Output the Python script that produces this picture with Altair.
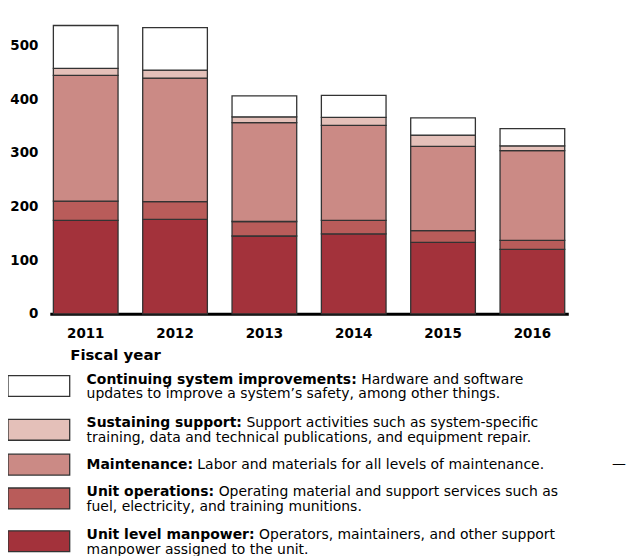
import altair as alt
import pandas as pd

# ---------------- data ----------------
years = ["2011", "2012", "2013", "2014", "2015", "2016"]
categories = ["Unit level manpower", "Unit operations", "Maintenance",
              "Sustaining support", "Continuing system improvements"]
manpower = [174, 176, 145, 149, 133, 120]
unit_operations = [36, 33, 27, 25, 22, 17]
maintenance = [234, 230, 184, 177, 157, 167]
sustaining_support = [13, 15, 11, 15, 21, 9]
system_improvements = [80, 79, 39, 41, 32, 32]
y_ticks = [0, 100, 200, 300, 400, 500]

legend_labels = ["Continuing system improvements:", "Sustaining support:", "Maintenance:",
                 "Unit operations:", "Unit level manpower:"]
legend_line1 = ["Hardware and software",
                "Support activities such as system-specific",
                "Labor and materials for all levels of maintenance.",
                "Operating material and support services such as",
                "Operators, maintainers, and other support"]
legend_line2 = ["updates to improve a system\u2019s safety, among other things.",
                "training, data and technical publications, and equipment repair.",
                "",
                "fuel, electricity, and training munitions.",
                "manpower assigned to the unit."]
legend_categories = categories[::-1]

# ---------------- style / layout ----------------
colors = ["#A3323B", "#B95C5A", "#CB8A85", "#E4C0B9", "#FFFFFF"]
FONT = "DejaVu Sans"
W, H = 521, 300
PAD_L, PAD_T = 42, 6
Y_MAX = 556
ORIGIN_X, ORIGIN_Y = 8 + PAD_L, 8 + PAD_T
LEG_FS = 14
LEGEND_ROW_Y = [386.5, 430.5, 465.5, 499.5, 542.5]   # page y of swatch centres
LINE1_DY, LINE2_DY = -6.5, 8.5
SWATCH_X0, SWATCH_X1, SWATCH_H = 8, 70, 21
TEXT_X = 87
DASH_X = 622

# approximate DejaVu Sans Bold advance widths (em) to place regular text after bold label
BOLD_W = {" ": .348, "a": .675, "b": .716, "c": .593, "d": .716, "e": .678, "f": .435,
          "g": .716, "h": .712, "i": .343, "l": .343, "m": 1.042, "n": .712, "o": .687,
          "p": .716, "r": .493, "s": .595, "t": .478, "u": .712, "v": .652, "w": .924,
          "y": .652, "C": .733, "M": .974, "S": .719, "U": .812, ":": .400}
REG_SPACE = .318


def bold_width(s):
    return sum(BOLD_W.get(ch, .7) for ch in s) * LEG_FS


# ---------------- bars ----------------
series = [manpower, unit_operations, maintenance, sustaining_support, system_improvements]
rows = []
for ci, (cat, vals) in enumerate(zip(categories, series)):
    for yr, v in zip(years, vals):
        rows.append({"year": yr, "category": cat, "value": v, "order": ci})
bars_df = pd.DataFrame(rows)

bars = alt.Chart(bars_df).mark_bar(stroke="#333333", strokeWidth=1.3).encode(
    x=alt.X("year:O",
            scale=alt.Scale(paddingInner=0.276, paddingOuter=0.04),
            axis=alt.Axis(title="Fiscal year", labelAngle=0, labelFont=FONT,
                          labelFontWeight="bold", labelFontSize=13.5, labelColor="black",
                          labelPadding=13, ticks=False, domainColor="black", domainWidth=3,
                          titleFont=FONT, titleFontWeight="bold", titleFontSize=15,
                          titleColor="black", titleAnchor="start", titleAlign="left",
                          titleX=70 - ORIGIN_X, titleY=355 - (ORIGIN_Y + H),
                          titleBaseline="middle")),
    y=alt.Y("value:Q", stack="zero",
            scale=alt.Scale(domain=[0, Y_MAX], nice=False),
            axis=alt.Axis(title=None, values=y_ticks, labelFont=FONT, labelFontWeight="bold",
                          labelFontSize=13.5, labelColor="black", labelPadding=12,
                          ticks=False, domain=False, grid=False)),
    color=alt.Color("category:N", scale=alt.Scale(domain=categories, range=colors), legend=None),
    order=alt.Order("order:Q", sort="ascending"),
)

# ---------------- custom legend ----------------
leg_rows = []
for i, cat in enumerate(legend_categories):
    cy = LEGEND_ROW_Y[i]
    two = legend_line2[i] != ""
    leg_rows.append({
        "category": cat,
        "color": colors[categories.index(cat)],
        "label": legend_labels[i],
        "line1": legend_line1[i],
        "line2": legend_line2[i],
        "ytop": cy - SWATCH_H / 2,
        "ybot": cy + SWATCH_H / 2,
        "y1": cy + LINE1_DY if two else cy,
        "y2": cy + LINE2_DY,
        "xd": TEXT_X + bold_width(legend_labels[i]) + REG_SPACE * LEG_FS,
    })
leg_df = pd.DataFrame(leg_rows)

ys = alt.Scale(domain=[0, 556], range=[-ORIGIN_Y, 556 - ORIGIN_Y])
xs = alt.Scale(domain=[0, 636], range=[-ORIGIN_X, 636 - ORIGIN_X])

swatch = alt.Chart(leg_df).mark_rect(stroke="#333333", strokeWidth=1.3).encode(
    x=alt.value(SWATCH_X0 - ORIGIN_X),
    x2=alt.value(SWATCH_X1 - ORIGIN_X),
    y=alt.Y("ytop:Q", scale=ys, axis=None),
    y2="ybot:Q",
    color=alt.Color("color:N", scale=None),
)
lab = alt.Chart(leg_df).mark_text(align="left", baseline="middle", font=FONT,
                                  fontWeight="bold", fontSize=LEG_FS, color="black").encode(
    x=alt.value(TEXT_X - ORIGIN_X),
    y=alt.Y("y1:Q", scale=ys, axis=None),
    text="label:N",
)
desc1 = alt.Chart(leg_df).mark_text(align="left", baseline="middle", font=FONT,
                                    fontSize=LEG_FS, color="black").encode(
    x=alt.X("xd:Q", scale=xs, axis=None),
    y=alt.Y("y1:Q", scale=ys, axis=None),
    text="line1:N",
)
desc2 = alt.Chart(leg_df).mark_text(align="left", baseline="middle", font=FONT,
                                    fontSize=LEG_FS, color="black").encode(
    x=alt.value(TEXT_X - ORIGIN_X),
    y=alt.Y("y2:Q", scale=ys, axis=None),
    text="line2:N",
)
dash_df = leg_df[leg_df["line2"] == ""].assign(xdash=DASH_X, dash="\u2014")
dash = alt.Chart(dash_df).mark_text(align="center", baseline="middle", font=FONT,
                                    fontSize=LEG_FS, color="black").encode(
    x=alt.X("xdash:Q", scale=xs, axis=None),
    y=alt.Y("y1:Q", scale=ys, axis=None),
    text="dash:N",
)
legend = alt.layer(swatch, lab, desc1, desc2, dash)

chart = alt.layer(bars, legend).resolve_scale(
    x="independent", y="independent", color="independent"
).properties(
    width=W, height=H,
    autosize=alt.AutoSizeParams(type="none"),
    padding={"left": PAD_L, "top": PAD_T, "right": 60, "bottom": 242},
    background="white",
).configure_view(stroke=None)

chart.save("out.html", embed_options={"renderer": "svg", "actions": False})
